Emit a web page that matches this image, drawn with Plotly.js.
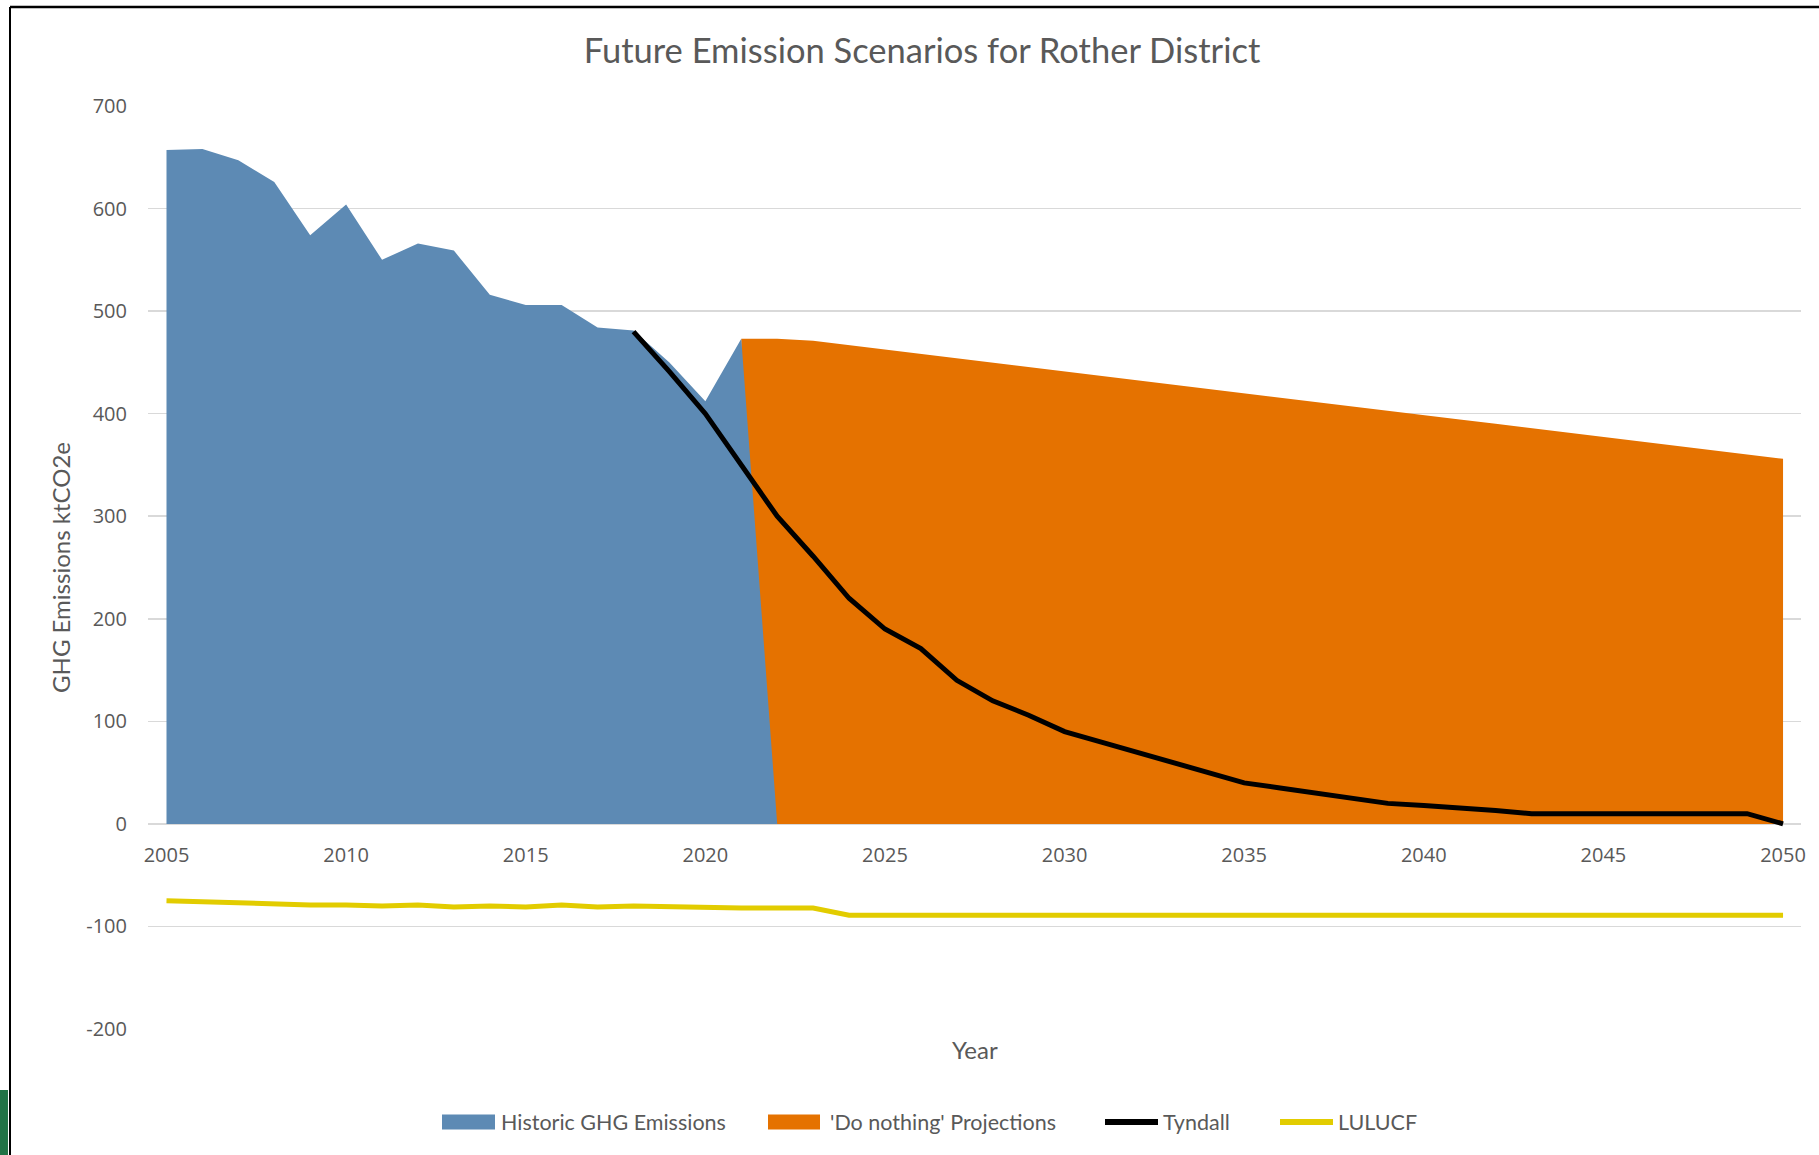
<!DOCTYPE html>
<html>
<head>
<meta charset="utf-8">
<script src="https://cdn.plot.ly/plotly-3.0.1.min.js"></script>
<style>
  html, body { margin: 0; padding: 0; background: #ffffff; }
  #chart { width: 1819px; height: 1155px; }
</style>
</head>
<body>
<div id="chart"></div>
<script>
// ---- Data ----
const historicYears = [2005, 2006, 2007, 2008, 2009, 2010, 2011, 2012, 2013, 2014, 2015, 2016, 2017, 2018, 2019, 2020, 2021, 2022];
const historicValues = [657, 658, 647, 626, 574, 604, 550, 566, 559, 516, 506, 506, 484, 481, 450, 412, 473, 0];

const projectionYears = [2021, 2022, 2023, 2024, 2025, 2026, 2027, 2028, 2029, 2030, 2031, 2032, 2033, 2034, 2035, 2036, 2037, 2038, 2039, 2040, 2041, 2042, 2043, 2044, 2045, 2046, 2047, 2048, 2049, 2050];
const projectionValues = [473, 473, 471.0, 466.7, 462.5, 458.2, 454.0, 449.7, 445.4, 441.2, 436.9, 432.7, 428.4, 424.1, 419.9, 415.6, 411.4, 407.1, 402.8, 398.6, 394.3, 390.1, 385.8, 381.5, 377.3, 373.0, 368.8, 364.5, 360.2, 356.0];

const tyndallYears = [2018, 2019, 2020, 2021, 2022, 2023, 2024, 2025, 2026, 2027, 2028, 2029, 2030, 2031, 2032, 2033, 2034, 2035, 2036, 2037, 2038, 2039, 2040, 2041, 2042, 2043, 2044, 2045, 2046, 2047, 2048, 2049, 2050];
const tyndallValues = [480, 441, 400, 350, 300, 261, 220, 190, 171, 140, 120, 106, 90, 80, 70, 60, 50, 40, 35, 30, 25, 20, 18, 16, 13, 10, 10, 10, 10, 10, 10, 10, 0];

const luluYears = [2005, 2006, 2007, 2008, 2009, 2010, 2011, 2012, 2013, 2014, 2015, 2016, 2017, 2018, 2019, 2020, 2021, 2022, 2023, 2024, 2025, 2026, 2027, 2028, 2029, 2030, 2031, 2032, 2033, 2034, 2035, 2036, 2037, 2038, 2039, 2040, 2041, 2042, 2043, 2044, 2045, 2046, 2047, 2048, 2049, 2050];
const luluValues = [-75, -76, -77, -79, -79, -79, -80, -79, -81, -80, -81, -79, -81, -80, -81, -82, -82, -82, -82, -89, -89, -89, -89, -89, -89, -89, -89, -89, -89, -89, -89, -89, -89, -89, -89, -89, -89, -89, -89, -89, -89, -89, -89, -89, -89, -89];

const seriesNames = ["Historic GHG Emissions", "'Do nothing' Projections", "Tyndall", "LULUCF"];
const seriesColors = ["#5D8AB4", "#E57200", "#000000", "#E2CC00"];
const yTickVals = [-200, -100, 0, 100, 200, 300, 400, 500, 600, 700];
const yTickText = ["-200", "-100", "0", "100", "200", "300", "400", "500", "600", "700"];
const xTickVals = [2005, 2010, 2015, 2020, 2025, 2030, 2035, 2040, 2045, 2050];
const xTickText = ["2005", "2010", "2015", "2020", "2025", "2030", "2035", "2040", "2045", "2050"];

const chartTitle = "Future Emission Scenarios for Rother District";
const yTitle = "GHG Emissions ktCO2e";
const xTitle = "Year";

// ---- Styling ----
const textColor = "#595959";
const labelFont = "Lato, 'Open Sans', sans-serif";
const tickFont = "'Open Sans', 'Noto Sans', sans-serif";

const traces = [
  {
    x: projectionYears, y: projectionValues, name: seriesNames[1],
    type: "scatter", mode: "lines", fill: "tozeroy",
    fillcolor: seriesColors[1], line: { width: 0, color: seriesColors[1] },
    showlegend: false
  },
  {
    x: historicYears, y: historicValues, name: seriesNames[0],
    type: "scatter", mode: "lines", fill: "tozeroy",
    fillcolor: seriesColors[0], line: { width: 0, color: seriesColors[0] },
    showlegend: false
  },
  {
    x: tyndallYears, y: tyndallValues, name: seriesNames[2],
    type: "scatter", mode: "lines",
    line: { width: 5, color: seriesColors[2] },
    showlegend: false
  },
  {
    x: luluYears, y: luluValues, name: seriesNames[3],
    type: "scatter", mode: "lines",
    line: { width: 5, color: seriesColors[3] },
    showlegend: false
  }
];

const L = 148, R = 18, T = 106, B = 126;
const W = 1819, H = 1155;
const pw = W - L - R, ph = H - T - B;
function px2x(px) { return (px - L) / pw; }
function py2y(py) { return (H - B - py) / ph; }

// ---- Legend (drawn as shapes + text at the reference positions) ----
const legendY = 1122;
const legendItems = [
  { kind: "box",  x0: 442,  x1: 495,  tx: 499 },
  { kind: "box",  x0: 768,  x1: 820,  tx: 828 },
  { kind: "line", x0: 1105, x1: 1158, tx: 1161 },
  { kind: "line", x0: 1280, x1: 1333, tx: 1336 }
];
const legendShapes = [];
const legendTexts = [];
const legendOrder = [0, 1, 2, 3];
legendOrder.forEach((si, i) => {
  const it = legendItems[i];
  if (it.kind === "box") {
    legendShapes.push({ type: "rect", xref: "paper", yref: "paper",
      x0: px2x(it.x0), x1: px2x(it.x1), y0: py2y(legendY + 7.5), y1: py2y(legendY - 7.5),
      fillcolor: seriesColors[si], line: { width: 0 } });
  } else {
    legendShapes.push({ type: "line", xref: "paper", yref: "paper",
      x0: px2x(it.x0), x1: px2x(it.x1), y0: py2y(legendY), y1: py2y(legendY),
      line: { color: seriesColors[si], width: 6 } });
  }
  legendTexts.push({ text: seriesNames[si], showarrow: false,
    xref: "paper", x: px2x(it.tx), xanchor: "left",
    yref: "paper", y: py2y(legendY), yanchor: "middle",
    font: { family: labelFont, size: 21.5, color: textColor } });
});

const layout = {
  width: W, height: H,
  paper_bgcolor: "#ffffff", plot_bgcolor: "#ffffff",
  margin: { l: L, r: R, t: T, b: B, pad: 0 },
  showlegend: false,
  title: {
    text: chartTitle,
    font: { family: labelFont, size: 34.5, color: textColor },
    xref: "container", x: 922 / W, xanchor: "center",
    yref: "container", y: 1 - 51 / H, yanchor: "middle"
  },
  xaxis: {
    range: [2004.485, 2050.5],
    tickmode: "array", tickvals: xTickVals, ticktext: xTickText,
    showgrid: false, zeroline: false, showline: false,
    ticks: "",
    anchor: "free", position: 200 / 900,
    tickfont: { family: tickFont, size: 20, color: textColor },
    ticklabelstandoff: 17
  },
  yaxis: {
    range: [-200, 700],
    tickmode: "array", tickvals: yTickVals, ticktext: yTickText,
    showgrid: true, gridcolor: "#D9D9D9", gridwidth: 1.6,
    zeroline: true, zerolinecolor: "#D9D9D9", zerolinewidth: 1.6,
    showline: false, ticks: "",
    tickfont: { family: tickFont, size: 20, color: textColor },
    ticklabelstandoff: 20,
    title: {
      text: yTitle,
      font: { family: labelFont, size: 24, color: textColor },
      standoff: 8
    }
  },
  annotations: [
    {
      text: xTitle, showarrow: false,
      xref: "paper", x: 0.5, xanchor: "center",
      yref: "paper", y: 0, yanchor: "middle", yshift: -20,
      font: { family: labelFont, size: 24, color: textColor }
    }
  ].concat(legendTexts),
  shapes: [
    { type: "line", xref: "paper", yref: "paper",
      x0: px2x(10), x1: px2x(1819), y0: py2y(7), y1: py2y(7),
      line: { color: "#000000", width: 2.5 } },
    { type: "line", xref: "paper", yref: "paper",
      x0: px2x(10), x1: px2x(10), y0: py2y(7), y1: py2y(1155),
      line: { color: "#000000", width: 2 } },
    { type: "rect", xref: "paper", yref: "paper",
      x0: px2x(0), x1: px2x(8), y0: py2y(1090), y1: py2y(1155),
      fillcolor: "#217346", line: { width: 0 } }
  ].concat(legendShapes)
};

Plotly.newPlot("chart", traces, layout, { displayModeBar: false, staticPlot: true });
</script>
</body>
</html>
